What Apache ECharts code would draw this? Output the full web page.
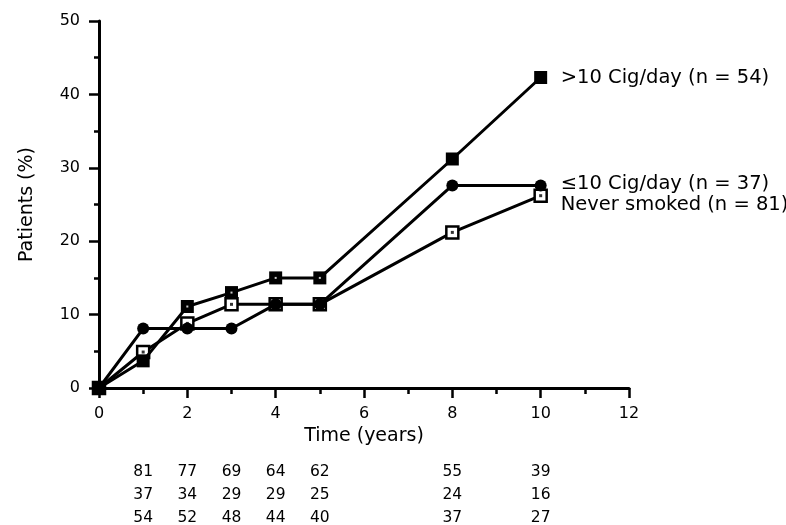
<!DOCTYPE html>
<html>
<head>
<meta charset="utf-8">
<script src="https://cdn.jsdelivr.net/npm/echarts@6/dist/echarts.min.js"></script>
<style>
  html, body { margin: 0; padding: 0; background: #fff; }
  #chart { width: 786px; height: 525px; }
</style>
</head>
<body>
<div id="chart"></div>
<script>
// time points (years) for each curve, starting at 0
var years = [0, 1, 2, 3, 4, 5, 8, 10];
var heavy = [0, 3.7, 11.1, 13.0, 15.0, 15.0, 31.2, 42.3];   // >10 Cig/day
var light = [0, 8.1, 8.1, 8.1, 11.4, 11.4, 27.6, 27.6];     // <=10 Cig/day
var never = [0, 4.9, 8.8, 11.4, 11.4, 11.4, 21.2, 26.2];    // never smoked

var seriesNames = ['>10 Cig/day (n = 54)', '\u226410 Cig/day (n = 37)', 'Never smoked (n = 81)'];

// numbers at risk below the axis
var riskYears = [1, 2, 3, 4, 5, 8, 10];
var riskNever = [81, 77, 69, 64, 62, 55, 39];
var riskLight = [37, 34, 29, 29, 25, 24, 16];
var riskHeavy = [54, 52, 48, 44, 40, 37, 27];
var riskRows = ['never', 'light', 'heavy'];

var FONT = '"DejaVu Sans", sans-serif';
var INK = '#000';

function pairs(ys) {
  return years.map(function (x, i) { return [x, ys[i]]; });
}

function riskData() {
  var rows = [riskNever, riskLight, riskHeavy];
  var out = [];
  rows.forEach(function (row, r) {
    row.forEach(function (n, i) {
      out.push([riskYears[i], riskRows[r], n]);
    });
  });
  return out;
}

var chart = echarts.init(document.getElementById('chart'), null, { renderer: 'canvas' });

var option = {
  backgroundColor: '#fff',
  animation: false,
  textStyle: { fontFamily: FONT, color: INK },
  grid: [
    { left: 99, right: 157, top: 21, bottom: 137 },
    { left: 99, right: 157, top: 472, height: 46 }
  ],
  xAxis: [{
    type: 'value',
    gridIndex: 0,
    min: 0, max: 12, interval: 2,
    name: 'Time (years)',
    nameLocation: 'middle',
    nameGap: 25,
    nameTextStyle: { fontSize: 19, color: INK, fontFamily: FONT },
    axisLine: { show: true, onZero: false, lineStyle: { color: INK, width: 3 } },
    axisTick: { show: true, length: 10, lineStyle: { color: INK, width: 2.5 } },
    minorTick: { show: true, splitNumber: 2, length: 6, lineStyle: { color: INK, width: 2.5 } },
    axisLabel: { fontSize: 16, color: INK, margin: 18, fontFamily: FONT },
    splitLine: { show: false }
  }, {
    type: 'value',
    gridIndex: 1,
    min: 0, max: 12,
    show: false
  }],
  yAxis: [{
    type: 'value',
    gridIndex: 0,
    min: 0, max: 50, interval: 10,
    name: 'Patients (%)',
    nameLocation: 'middle',
    nameGap: 62,
    nameTextStyle: { fontSize: 19, color: INK, fontFamily: FONT },
    axisLine: { show: true, lineStyle: { color: INK, width: 3 } },
    axisTick: { show: true, length: 10, lineStyle: { color: INK, width: 2.5 } },
    minorTick: { show: true, splitNumber: 2, length: 5, lineStyle: { color: INK, width: 2.5 } },
    axisLabel: { fontSize: 16, color: INK, margin: 19, fontFamily: FONT },
    splitLine: { show: false }
  }, {
    type: 'category',
    gridIndex: 1,
    data: riskRows,
    inverse: true,
    boundaryGap: false,
    show: false
  }],
  series: [{
    name: seriesNames[2],
    type: 'line',
    data: pairs(never),
    symbol: 'rect',
    symbolSize: 12,
    itemStyle: { color: '#fff', borderColor: INK, borderWidth: 2.5 },
    lineStyle: { color: INK, width: 3 },
    z: 2,
    endLabel: {
      show: true, formatter: '{a}', fontSize: 19.5, color: INK, fontFamily: FONT,
      distance: 20, offset: [0, 9]
    }
  }, {
    // centre dot of the open squares
    name: 'never-dot',
    type: 'scatter',
    data: pairs(never).slice(1),
    symbol: 'rect',
    symbolSize: 3,
    itemStyle: { color: INK },
    z: 3,
    silent: true
  }, {
    name: seriesNames[1],
    type: 'line',
    data: pairs(light),
    symbol: 'circle',
    symbolSize: 12,
    itemStyle: { color: INK },
    lineStyle: { color: INK, width: 3 },
    z: 4,
    endLabel: {
      show: true, formatter: '{a}', fontSize: 19.5, color: INK, fontFamily: FONT,
      distance: 20, offset: [0, -1]
    }
  }, {
    name: seriesNames[0],
    type: 'line',
    data: pairs(heavy),
    symbol: 'rect',
    symbolSize: 13,
    itemStyle: { color: INK },
    lineStyle: { color: INK, width: 3 },
    z: 5,
    endLabel: {
      show: true, formatter: '{a}', fontSize: 19.5, color: INK, fontFamily: FONT,
      distance: 20, offset: [0, 0]
    }
  }, {
    // small white centre of the filled squares
    name: 'heavy-dot',
    type: 'scatter',
    data: pairs(heavy).slice(2, 6),
    symbol: 'rect',
    symbolSize: 2,
    itemStyle: { color: '#fff' },
    z: 6,
    silent: true
  }, {
    name: 'at risk',
    type: 'scatter',
    xAxisIndex: 1,
    yAxisIndex: 1,
    data: riskData(),
    symbolSize: 1,
    itemStyle: { color: 'rgba(0,0,0,0)' },
    silent: true,
    label: {
      show: true,
      position: 'inside',
      fontSize: 15.5,
      color: INK,
      textBorderWidth: 0,
      opacity: 1,
      fontFamily: FONT,
      formatter: function (p) { return p.value[2]; }
    }
  }]
};

chart.setOption(option);
</script>
</body>
</html>
